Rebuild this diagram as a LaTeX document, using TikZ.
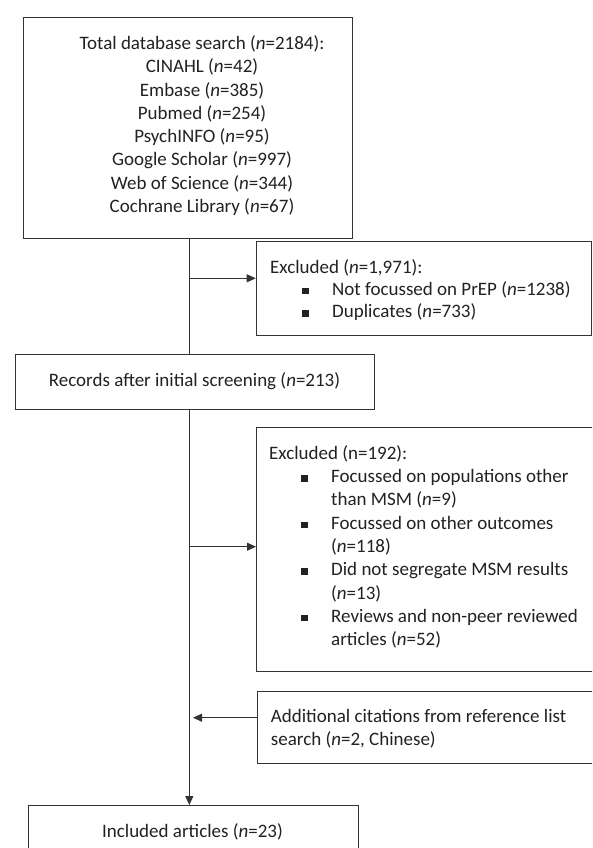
\documentclass[tikz,border=0pt]{standalone}
\usepackage{fontspec}
\setmainfont{Carlito}
\usetikzlibrary{arrows.meta}
\definecolor{linec}{HTML}{333333}
\definecolor{txtc}{HTML}{222222}
\newcommand{\nn}{\textit{n}}
\newcommand{\sqb}{\raisebox{1pt}{\rule{6.5pt}{6.5pt}}}
\newcommand{\itm}[1]{\hspace*{32pt}\sqb\hspace*{23.5pt}#1}
\newcommand{\cnt}[1]{\hspace*{62pt}#1}
\begin{document}
\begin{tikzpicture}[x=1pt,y=-1pt,
  box/.style={draw=linec, line width=1pt, inner sep=0pt, anchor=north west},
  txt/.style={text=txtc, inner sep=0pt},
  ln/.style={draw=linec, line width=1pt},
  arr/.style={draw=linec, line width=1pt, -{Triangle[length=9pt,width=8pt]}}]
\clip (0,0) rectangle (592,848);
\fill[white] (0,0) rectangle (592,848);
% boxes
\node[box, minimum width=329.3pt, minimum height=220.2pt] (b1) at (23,17.3) {};
\node[box, minimum width=335.3pt, minimum height=94pt] (b2) at (255.7,241) {};
\node[box, minimum width=358.9pt, minimum height=54.4pt] (b3) at (15.1,354.3) {};
\node[box, minimum width=337pt, minimum height=243.7pt] (b4) at (256,427) {};
\node[box, minimum width=336pt, minimum height=72.6pt] (b5) at (257,690.7) {};
\node[box, minimum width=330pt, minimum height=65pt] (b6) at (27.7,805) {};
% texts
\node[txt, anchor=base] (t1) at (202,49.5) {\fontsize{19}{23.3}\selectfont
  \begin{tabular}[t]{@{}c@{}}
  Total database search (\nn=2184):\\
  CINAHL (\nn=42)\\
  Embase (\nn=385)\\
  Pubmed (\nn=254)\\
  PsychINFO (\nn=95)\\
  Google Scholar (\nn=997)\\
  Web of Science (\nn=344)\\
  Cochrane Library (\nn=67)
  \end{tabular}};
\node[txt, anchor=base west] (t2) at (270,273) {\fontsize{19}{22.3}\selectfont
  \begin{tabular}[t]{@{}l@{}}
  Excluded (\nn=1,971):\\
  \itm{Not focussed on PrEP (\nn=1238)}\\
  \itm{Duplicates (\nn=733)}
  \end{tabular}};
\node[txt, anchor=base] (t3) at (194.5,386) {\fontsize{19}{23.3}\selectfont Records after initial screening (\nn=213)};
\node[txt, anchor=base west] (t4) at (269,459.3) {\fontsize{19}{23.3}\selectfont
  \begin{tabular}[t]{@{}l@{}}
  Excluded (n=192):\\
  \itm{Focussed on populations other}\\
  \cnt{than MSM (\nn=9)}\\
  \itm{Focussed on other outcomes}\\
  \cnt{(\nn=118)}\\
  \itm{Did not segregate MSM results}\\
  \cnt{(\nn=13)}\\
  \itm{Reviews and non-peer reviewed}\\
  \cnt{articles (\nn=52)}
  \end{tabular}};
\node[txt, anchor=base west] (t5) at (270.7,722.7) {\fontsize{19}{22.3}\selectfont
  \begin{tabular}[t]{@{}l@{}}
  Additional citations from reference list\\
  search (\nn=2, Chinese)
  \end{tabular}};
\node[txt, anchor=base] (t6) at (192.5,837.7) {\fontsize{19}{23.3}\selectfont Included articles (\nn=23)};
% connectors
\coordinate (k1) at (189.3,278.3);
\coordinate (k2) at (189.3,546.7);
\coordinate (k3) at (193,717.7);
\draw[ln] (b1.south -| k1) -- (b3.north -| k1);
\draw[arr] (k1) -- (k1 -| b2.west);
\draw[arr] (b3.south -| k1) -- (b6.north -| k1);
\draw[arr] (k2) -- (k2 -| b4.west);
\draw[arr] (k3 -| b5.west) -- (k3);
\end{tikzpicture}
\end{document}
